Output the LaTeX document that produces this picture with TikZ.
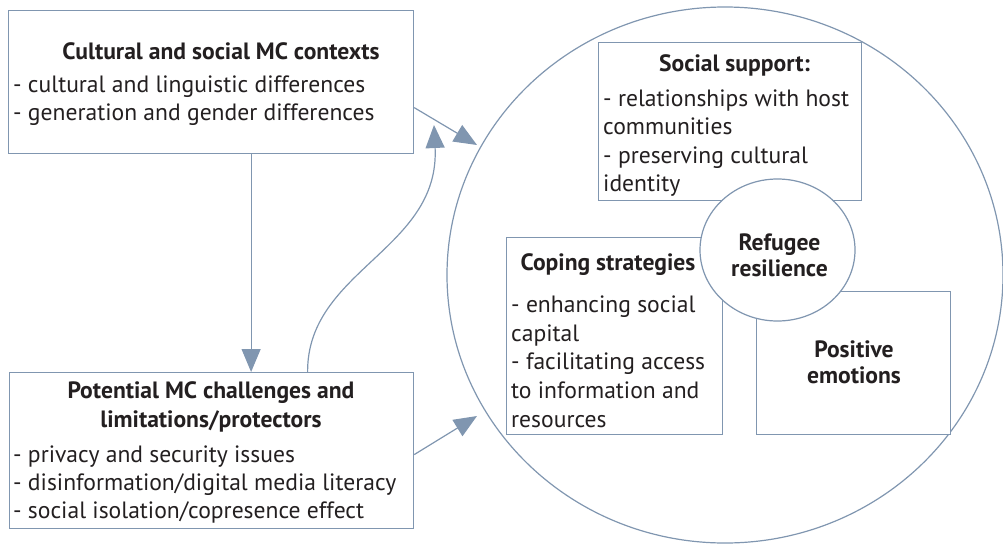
\documentclass[tikz,border=0pt]{standalone}
\usepackage{fontspec}
\setmainfont{PT Sans}
\usetikzlibrary{arrows.meta,shapes.geometric}
\definecolor{edge}{HTML}{8096B0}
\definecolor{ink}{HTML}{231F20}
\begin{document}
\begin{tikzpicture}[x=1pt,y=-1pt,
  box/.style={draw=edge,line width=1.2pt,fill=white,inner sep=0pt,anchor=north west},
  oval/.style={draw=edge,line width=1.2pt,ellipse,inner sep=0pt},
  txt/.style={inner sep=0pt,anchor=base west,text=ink,font=\fontsize{23.6}{28}\selectfont},
  ttl/.style={inner sep=0pt,anchor=base,text=ink,font=\fontsize{23.6}{28}\selectfont\bfseries},
  conn/.style={draw=edge,line width=1.2pt,-{Triangle[length=23pt,width=19pt,fill=edge]}},
]
\useasboundingbox (0,0) rectangle (1003,544);
% big circle
\node[oval,minimum width=556pt,minimum height=536pt] (big) at (725,275) {};
% boxes
\node[box,minimum width=405pt,minimum height=143pt] (A) at (8,10) {};
\node[box,minimum width=404pt,minimum height=156pt] (B) at (9,372) {};
\node[box,minimum width=263pt,minimum height=158pt] (S) at (598,42) {};
\node[box,minimum width=216pt,minimum height=197pt] (C) at (506,237) {};
\node[box,minimum width=194pt,minimum height=143pt] (P) at (756,291) {};
\node[oval,fill=white,minimum width=155pt,minimum height=142pt] (R) at (777.5,250) {};
% texts A
\node[ttl] (A0) at (221,59) {Cultural and social MC contexts};
\node[txt] (A1) at (13,92) {- cultural and linguistic differences};
\node[txt] (A2) at (13,120) {- generation and gender differences};
% texts B
\node[ttl] (B0) at (211,398) {Potential MC challenges and};
\node[ttl] (B1) at (211,427) {limitations/protectors};
\node[txt] (B2) at (13,462) {- privacy and security issues};
\node[txt] (B3) at (13,490) {- disinformation/digital media literacy};
\node[txt] (B4) at (13,518) {- social isolation/copresence effect};
% texts S
\node[ttl] (S0) at (734.5,71) {Social support:};
\node[txt] (S1) at (603,106) {- relationships with host};
\node[txt] (S2) at (603,134) {communities};
\node[txt] (S3) at (603,163) {- preserving cultural};
\node[txt] (S4) at (603,191.5) {identity};
% texts C
\node[ttl] (C0) at (608,270) {Coping strategies};
\node[txt] (C1) at (511,312) {- enhancing social};
\node[txt] (C2) at (511,341) {capital};
\node[txt] (C3) at (511,369.5) {- facilitating access};
\node[txt] (C4) at (511,398) {to information and};
\node[txt] (C5) at (511,427) {resources};
% texts R, P
\node[ttl] (R0) at (779.5,250) {Refugee};
\node[ttl] (R1) at (779.5,276.5) {resilience};
\node[ttl] (P0) at (854,357) {Positive};
\node[ttl] (P1) at (854,383) {emotions};
% connectors
\coordinate (tipA) at (477,145);
\coordinate (tipB) at (477,416);
\coordinate (tipU) at (434,125);
\draw[conn] ([yshift=-25.5pt]A.east) -- (tipA);
\draw[conn] ([yshift=-4pt]B.east) -- (tipB);
\draw[conn] ([xshift=40pt]A.south) -- ([xshift=40pt]A.south |- B.north);
\draw[conn] ([xshift=96pt]B.north) .. controls (307,270) and (440,250) .. (tipU);
\end{tikzpicture}
\end{document}
